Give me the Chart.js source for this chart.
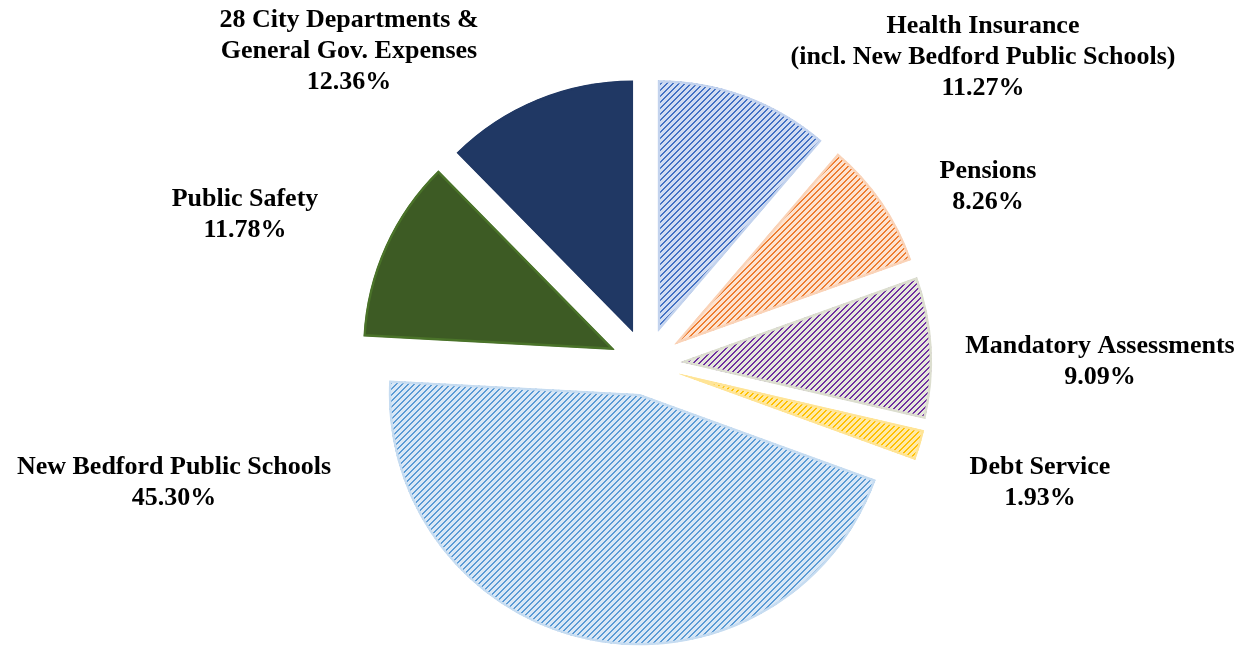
<!DOCTYPE html>
<html>
<head>
<meta charset="utf-8">
<script src="https://cdn.jsdelivr.net/npm/chart.js@4.4.1/dist/chart.umd.min.js"></script>
<style>
  html, body { margin: 0; padding: 0; background: #fff; }
  #chart { display: block; }
</style>
</head>
<body>
<canvas id="chart" width="1246" height="647"></canvas>
<script>
// Budget share by category, clockwise from 12 o'clock
const categories = [
  ['Health Insurance', '(incl. New Bedford Public Schools)'],
  ['Pensions'],
  ['Mandatory Assessments'],
  ['Debt Service'],
  ['New Bedford Public Schools'],
  ['Public Safety'],
  ['28 City Departments &', 'General Gov. Expenses']
];
const shares = [11.27, 8.26, 9.09, 1.93, 45.30, 11.78, 12.36];

// fill per slice: [background, hatch line] pairs or a solid colour
const sliceFills = [
  ['#d2ddf2', '#4472c4'],
  ['#fde3d1', '#ed7d31'],
  ['#e6e8dc', '#7030a0'],
  ['#ffeaa8', '#ffc000'],
  ['#dae8f6', '#5b9bd5'],
  '#3d5b24',
  '#203864'
];
const sliceEdges = ['#c3d3ee', '#fad3b8', '#dcdecf', '#ffe496', '#c6dcf1', '#4a7329', '#203864'];
const explode = [35, 35, 35, 35, 31, 35, 35];
// centre of each label's first line, relative to the pie centre
const labelAnchors = [[337, -338], [342, -193], [454, -18], [394, 103], [-472, 103], [-401, -165], [-297, -344]];

const canvas = document.getElementById('chart');
const ctx = canvas.getContext('2d');

// "/" hatch: a 2px wide diagonal line every 6px
function hatch(bg, fg) {
  const n = 6;
  const tile = document.createElement('canvas');
  tile.width = n;
  tile.height = n;
  const t = tile.getContext('2d');
  t.fillStyle = bg;
  t.fillRect(0, 0, n, n);
  t.fillStyle = fg;
  for (let y = 0; y < n; y++) {
    t.fillRect((n - 1 - y) % n, y, 1, 1);
    t.fillRect((n - y) % n, y, 1, 1);
  }
  return ctx.createPattern(tile, 'repeat');
}

const fills = sliceFills.map(f => Array.isArray(f) ? hatch(f[0], f[1]) : f);

// push each slice out from the centre along its mid angle
const explodePlugin = {
  id: 'explode',
  afterDatasetsUpdate(chart) {
    chart.getDatasetMeta(0).data.forEach((arc, i) => {
      const mid = (arc.startAngle + arc.endAngle) / 2;
      arc.x += Math.cos(mid) * explode[i];
      arc.y += Math.sin(mid) * explode[i];
    });
  }
};

const labelPlugin = {
  id: 'sliceLabels',
  afterDraw(chart) {
    const { chartArea } = chart;
    const cx = (chartArea.left + chartArea.right) / 2;
    const cy = (chartArea.top + chartArea.bottom) / 2;
    const c = chart.ctx;
    c.save();
    c.font = 'bold 26px "Liberation Serif", "Times New Roman", serif';
    c.fillStyle = '#000';
    c.textAlign = 'center';
    c.textBaseline = 'middle';
    categories.forEach((lines, i) => {
      const all = [...lines, shares[i].toFixed(2) + '%'];
      all.forEach((txt, j) => {
        c.fillText(txt, cx + labelAnchors[i][0], cy + labelAnchors[i][1] + j * 31);
      });
    });
    c.restore();
  }
};

new Chart(canvas, {
  type: 'pie',
  data: {
    labels: categories.map(l => l.join(' ')),
    datasets: [{
      data: shares,
      backgroundColor: fills,
      borderColor: sliceEdges,
      borderWidth: 2,
      borderAlign: 'inner'
    }]
  },
  options: {
    responsive: false,
    animation: false,
    radius: 251,
    layout: { padding: { left: 46, top: 81, right: 0, bottom: 0 } },
    plugins: {
      legend: { display: false },
      tooltip: { enabled: false }
    }
  },
  plugins: [explodePlugin, labelPlugin]
});
</script>
</body>
</html>
